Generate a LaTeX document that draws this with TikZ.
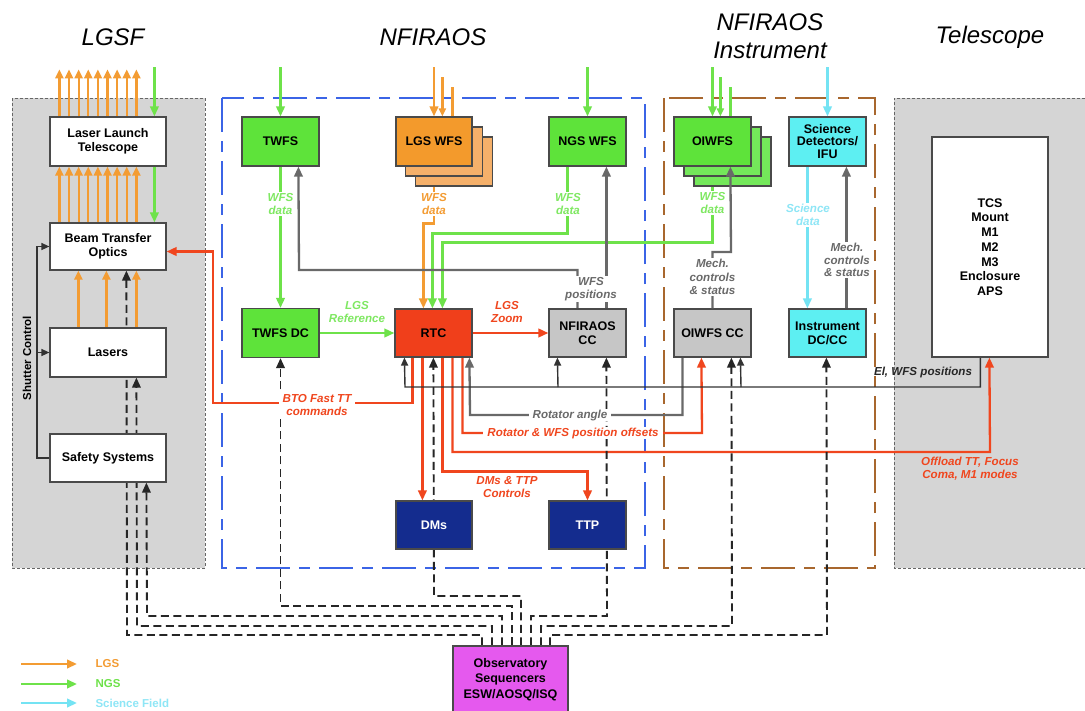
\documentclass[tikz,border=0pt]{standalone}
\usepackage{fontspec}
\setmainfont{Liberation Sans}
\usetikzlibrary{arrows.meta,calc}
\definecolor{cOrg}{HTML}{F39C33}
\definecolor{cGrn}{HTML}{6EE24A}
\definecolor{tGrn}{HTML}{7FE862}
\definecolor{cRed}{HTML}{F0461E}
\definecolor{cCyn}{HTML}{74E3F3}
\definecolor{tCyn}{HTML}{8EE6F6}
\definecolor{cGry}{HTML}{696969}
\definecolor{fGrn}{HTML}{5EE33A}
\definecolor{fGrnS}{HTML}{74E85A}
\definecolor{fOrg}{HTML}{F39A2C}
\definecolor{fOrgS}{HTML}{F5B06A}
\definecolor{fRed}{HTML}{F03F1B}
\definecolor{fGry}{HTML}{C6C6C6}
\definecolor{fCyn}{HTML}{5DEFF2}
\definecolor{fNavy}{HTML}{142C8E}
\definecolor{fMag}{HTML}{E559EE}
\definecolor{cPanel}{HTML}{D5D5D5}
\definecolor{cBdr}{HTML}{4A4A4A}
\definecolor{cBlue}{HTML}{3B64E6}
\definecolor{cBrown}{HTML}{A8672E}
\pgfdeclarelayer{back}
\pgfdeclarelayer{lines}
\pgfsetlayers{back,lines,main}
\begin{document}
\begin{tikzpicture}[x=1pt,y=-1pt,
  box/.style={draw=cBdr,line width=1.2pt,minimum width=77pt,minimum height=48pt,align=center,inner sep=1pt,font=\bfseries\fontsize{12.5}{13.8}\selectfont},
  wbox/.style={box,fill=white,minimum width=116pt},
  gbox/.style={box,fill=fGrn,minimum height=49pt},
  gsbox/.style={box,fill=fGrnS,minimum height=49pt},
  obox/.style={box,fill=fOrg,minimum height=49pt},
  osbox/.style={box,fill=fOrgS,minimum height=49pt},
  rbox/.style={box,fill=fRed},
  grybox/.style={box,fill=fGry},
  cbox/.style={box,fill=fCyn},
  nbox/.style={box,fill=fNavy,text=white},
  lbl/.style={font=\bfseries\itshape\fontsize{11.6}{12.8}\selectfont,align=center,inner sep=1pt},
  wl/.style={lbl,fill=white},
  ttl/.style={font=\itshape\fontsize{24}{28}\selectfont,align=center},
  tip/.style={-{Triangle[length=10pt,width=8.5pt]}},
  sm/.style={-{Triangle[length=8pt,width=7pt]}},
  bm/.style={-{Triangle[length=9pt,width=8pt]}},
  L/.style={line width=2.3pt},
  blkL/.style={line width=1.4pt,black!80},
  dsh/.style={line width=1.9pt,black!85,dash pattern=on 8pt off 4.5pt},
  pdash/.style={draw=black!60,line width=1pt,dash pattern=on 3pt off 2pt},
  rdash/.style={line width=2pt,dash pattern=on 34pt off 9pt on 11pt off 9pt}
]
\useasboundingbox (0,0) rectangle (1085,710);

% ---------- panels and regions ----------
\begin{pgfonlayer}{back}
\fill[white] (0,0) rectangle (1085,710);
\fill[cPanel] (12,98) rectangle (205,568);
\draw[pdash] (12,98) rectangle (205,568);
\fill[cPanel] (894,98) rectangle (1085,568);
\draw[pdash] (1085,98) -- (894,98) -- (894,568) -- (1085,568);
\draw[rdash,cBlue] (222,98) rectangle (645,568);
\draw[rdash,cBrown] (664,98) rectangle (875,568);
\end{pgfonlayer}

% ---------- titles ----------
\node[ttl] (tLGSF) at (113,37) {LGSF};
\node[ttl] (tNF) at (433,37) {NFIRAOS};
\node[ttl] (tInst) at (770,36) {NFIRAOS\\Instrument};
\node[ttl] (tTel) at (990,37) {Telescope};

% ---------- boxes ----------
\node[wbox,minimum height=49pt] (llt) at (108,141.5) {Laser Launch\\Telescope};
\node[wbox,minimum height=47pt] (bto) at (108,246.5) {Beam Transfer\\Optics};
\node[wbox,minimum height=49pt] (lasers) at (108,352.5) {Lasers};
\node[wbox] (safety) at (108,458) {Safety Systems};

\node[gbox] (twfs) at (280.5,141.5) {TWFS};
\node[osbox] (lgs3) at (454,161.5) {};
\node[osbox] (lgs2) at (444,151.5) {};
\node[obox,minimum width=76pt] (lgswfs) at (434,141.5) {LGS WFS};
\node[gbox] (ngswfs) at (587.5,141.5) {NGS WFS};
\node[gbox] (twfsdc) at (280.5,333) {TWFS DC};
\node[rbox] (rtc) at (433.5,333) {RTC};
\node[grybox] (nfcc) at (587.5,333) {NFIRAOS\\CC};
\node[nbox,minimum width=76pt] (dms) at (434,525) {DMs};
\node[nbox] (ttp) at (587.5,525) {TTP};

\node[gsbox] (oi3) at (732.5,161.5) {};
\node[gsbox] (oi2) at (722.5,151.5) {};
\node[gbox] (oiwfs) at (712.5,141.5) {OIWFS};
\node[cbox,minimum height=49pt,font=\bfseries\fontsize{12.5}{12.6}\selectfont] (scidet) at (827.5,141.5) {Science\\Detectors/\\IFU};
\node[grybox] (oicc) at (712.5,333) {OIWFS CC};
\node[cbox] (instcc) at (827.5,333) {Instrument\\DC/CC};

\node[wbox,minimum height=220pt,font=\bfseries\fontsize{12.5}{14.7}\selectfont] (tcs) at (990,247) {TCS\\Mount\\M1\\M2\\M3\\Enclosure\\APS};
\node[box,fill=fMag,minimum width=115pt,minimum height=67pt,font=\bfseries\fontsize{12.5}{15.5}\selectfont] (obs) at (510.5,679.5) {Observatory\\Sequencers\\ESW/AOSQ/ISQ};

% ---------- connectors ----------
\begin{pgfonlayer}{lines}
% LGSF beams
\foreach \i in {0,...,8} {
  \draw[L,cOrg,bm] ([xshift={10+9.625*\i}]llt.north west) -- ++(0,-47);
  \draw[L,cOrg,bm] ([xshift={10+9.625*\i}]bto.north west) -- ([xshift={10+9.625*\i}]llt.south west);
}
\draw[L,cGrn,tip] ([xshift=105,yshift=49]llt.north west) -- ([xshift=105]llt.north west);
\draw[L,cGrn,tip] ([xshift=105]llt.south west) -- ([xshift=105]bto.north west);
\foreach \d in {29,57,87}
  \draw[L,cOrg,bm] ([xshift=\d]lasers.north west) -- ([xshift=\d]bto.south west);

% shutter control
\coordinate (sc1) at (37,246.5);
\coordinate (sc2) at (37,352.5);
\draw[blkL,sm] (safety.west) -| (sc1) -- (bto.west);
\draw[blkL,sm] (sc2) -- (lasers.west);

% light inputs
\draw[L,cGrn,tip] ([yshift=49]twfs.north) -- (twfs.north);
\draw[L,cGrn,tip] ([yshift=49]ngswfs.north) -- (ngswfs.north);
\draw[L,cOrg,tip] ([yshift=49]lgswfs.north) -- (lgswfs.north);
\draw[L,cOrg,sm] ([xshift=47,yshift=39]lgswfs.north west) -- ([xshift=47]lgswfs.north west);
\draw[L,cOrg] ([xshift=57,yshift=29]lgswfs.north west) -- ([xshift=57]lgswfs.north west);
\draw[L,cGrn,tip] ([yshift=49]oiwfs.north) -- (oiwfs.north);
\draw[L,cGrn,sm] ([xshift=47,yshift=39]oiwfs.north west) -- ([xshift=47]oiwfs.north west);
\draw[L,cGrn] ([xshift=57,yshift=29]oiwfs.north west) -- ([xshift=57]oiwfs.north west);
\draw[L,cCyn,tip] ([yshift=49]scidet.north) -- (scidet.north);

% WFS data
\draw[L,cGrn,tip] (twfs.south) -- (twfsdc.north);
\draw[L,cOrg,tip] (lgswfs.south) -- ++(0,57) -| ([xshift=29]rtc.north west);
\draw[L,cGrn,tip] ([xshift=19]ngswfs.south west) -- ++(0,67) -| ([xshift=38]rtc.north west);
\draw[L,cGrn,tip] (oiwfs.south) -- ++(0,76) -| ([xshift=48]rtc.north west);

% WFS positions
\draw[L,cGry,tip] ([xshift=29]nfcc.north west) |- (299,270) -- ([xshift=57]twfs.south west);
\draw[L,cGry,tip] ([xshift=58]nfcc.north west) -- ([xshift=58]ngswfs.south west);

% instrument
\draw[L,cCyn,tip] ([xshift=19]scidet.south west) -- ([xshift=19]instcc.north west);
\draw[L,cGry,tip] ([xshift=58]instcc.north west) -- ([xshift=58]scidet.south west);

% RTC links
\draw[L,cGrn,tip] (twfsdc.east) -- (rtc.west);
\draw[L,cRed,tip] (rtc.east) -- (nfcc.west);
\draw[L,cRed,tip] ([xshift=28]rtc.south west) -- ([xshift=27]dms.north west);
\draw[L,cRed,tip] ([xshift=48]rtc.south west) |- ([yshift=29]ttp.north) -- (ttp.north);
\draw[L,cRed,tip] ([xshift=18]rtc.south west) |- (213,403) |- ([yshift=-5]bto.east);
\draw[L,cRed,tip] ([xshift=58]rtc.south west) |- (990,452) -- ([xshift=58]tcs.south west);
\draw[L,cRed,tip] ([xshift=68]rtc.south west) |- (702,433) -- ([xshift=28]oicc.south west);
\draw[L,cGry,tip] ([xshift=9]oicc.south west) |- (470,415) -- ([xshift=75]rtc.south west);

% El, WFS positions
\draw[blkL,sm] ([xshift=49]tcs.south west) |- (405,387) -- ([xshift=10]rtc.south west);
\coordinate (e1) at (558,387);
\coordinate (e2) at (741,387);
\draw[blkL,sm] (e1) -- ([xshift=9]nfcc.south west);
\draw[blkL,sm] (e2) -- ([xshift=67]oicc.south west);

% sequencer commands
\draw[dsh,tip] ([xshift=-28.5]obs.north) |- (127,635) -- ([xshift=77]bto.south west);
\draw[dsh,tip] ([xshift=-18.5]obs.north) |- (137,626) -- ([xshift=87]lasers.south west);
\draw[dsh,tip] ([xshift=-8.5]obs.north) |- (147,616) -- ([xshift=97]safety.south west);
\draw[dsh,tip] ([xshift=1.5]obs.north) |- (280.5,606) -- (twfsdc.south);
\draw[dsh,tip] ([xshift=10.5]obs.north) |- (434,596) -- ([xshift=39]rtc.south west);
\draw[dsh,tip] ([xshift=20.5]obs.north) |- (607,616) -- ([xshift=58]nfcc.south west);
\draw[dsh,tip] ([xshift=30.5]obs.north) |- (732,626) -- ([xshift=58]oicc.south west);
\draw[dsh,tip] ([xshift=39.5]obs.north) |- (827,635) -- ([xshift=38]instcc.south west);
\end{pgfonlayer}

% mech controls to OIWFS (drawn over the stacked boxes)
\draw[L,cGry,tip] (oicc.north) |- (731,252) -- ([xshift=57]oiwfs.south west);

% ---------- labels ----------
\node[wl,text=tGrn] (l1) at (280.5,204) {WFS\\data};
\node[wl,text=cOrg] (l2) at (434,204) {WFS\\data};
\node[wl,text=tGrn] (l3) at (568,204) {WFS\\data};
\node[wl,text=tGrn] (l4) at (712.5,203) {WFS\\data};
\node[wl,text=cGry] (l5) at (591,289) {WFS\\positions};
\node[wl,text=cGry,font=\bfseries\itshape\fontsize{11.6}{13.5}\selectfont] (l6) at (712.5,277) {Mech.\\controls\\\& status};
\node[wl,text=tCyn] (l7) at (808,215) {Science\\data};
\node[wl,text=cGry] (l8) at (847,260) {Mech.\\controls\\\& status};
\node[lbl,text=tGrn] (l9) at (357,312) {LGS\\Reference};
\node[lbl,text=cRed] (l10) at (507,312) {LGS\\Zoom};
\node[wl,text=cRed,inner xsep=4pt] (l11) at (317,405) {BTO Fast TT\\commands};
\node[wl,text=cGry,inner xsep=4pt] (l12) at (570,415) {Rotator angle};
\node[wl,text=cRed,inner xsep=4pt] (l13) at (573,433) {Rotator \& WFS position offsets};
\node[lbl,text=cRed] (l14) at (507,487) {DMs \& TTP\\Controls};
\node[lbl,text=black!85] (l15) at (923,372) {El, WFS positions};
\node[lbl,text=cRed] (l16) at (970,469) {Offload TT, Focus\\Coma, M1 modes};
\node[rotate=90,font=\bfseries\fontsize{11.5}{13}\selectfont] (l17) at (27,358) {Shutter Control};

% ---------- legend ----------
\coordinate (lg1a) at (21,664); \coordinate (lg1b) at (77,664);
\coordinate (lg2a) at (21,684); \coordinate (lg2b) at (77,684);
\coordinate (lg3a) at (21,703); \coordinate (lg3b) at (77,703);
\draw[L,cOrg,tip] (lg1a) -- (lg1b);
\draw[L,cGrn,tip] (lg2a) -- (lg2b);
\draw[L,cCyn,tip] (lg3a) -- (lg3b);
\node[anchor=west,text=cOrg,font=\bfseries\fontsize{11.5}{13}\selectfont] (lgt1) at (92,664) {LGS};
\node[anchor=west,text=cGrn,font=\bfseries\fontsize{11.5}{13}\selectfont] (lgt2) at (92,684) {NGS};
\node[anchor=west,text=tCyn,font=\bfseries\fontsize{11.5}{13}\selectfont] (lgt3) at (92,703) {Science Field};
\end{tikzpicture}
\end{document}
